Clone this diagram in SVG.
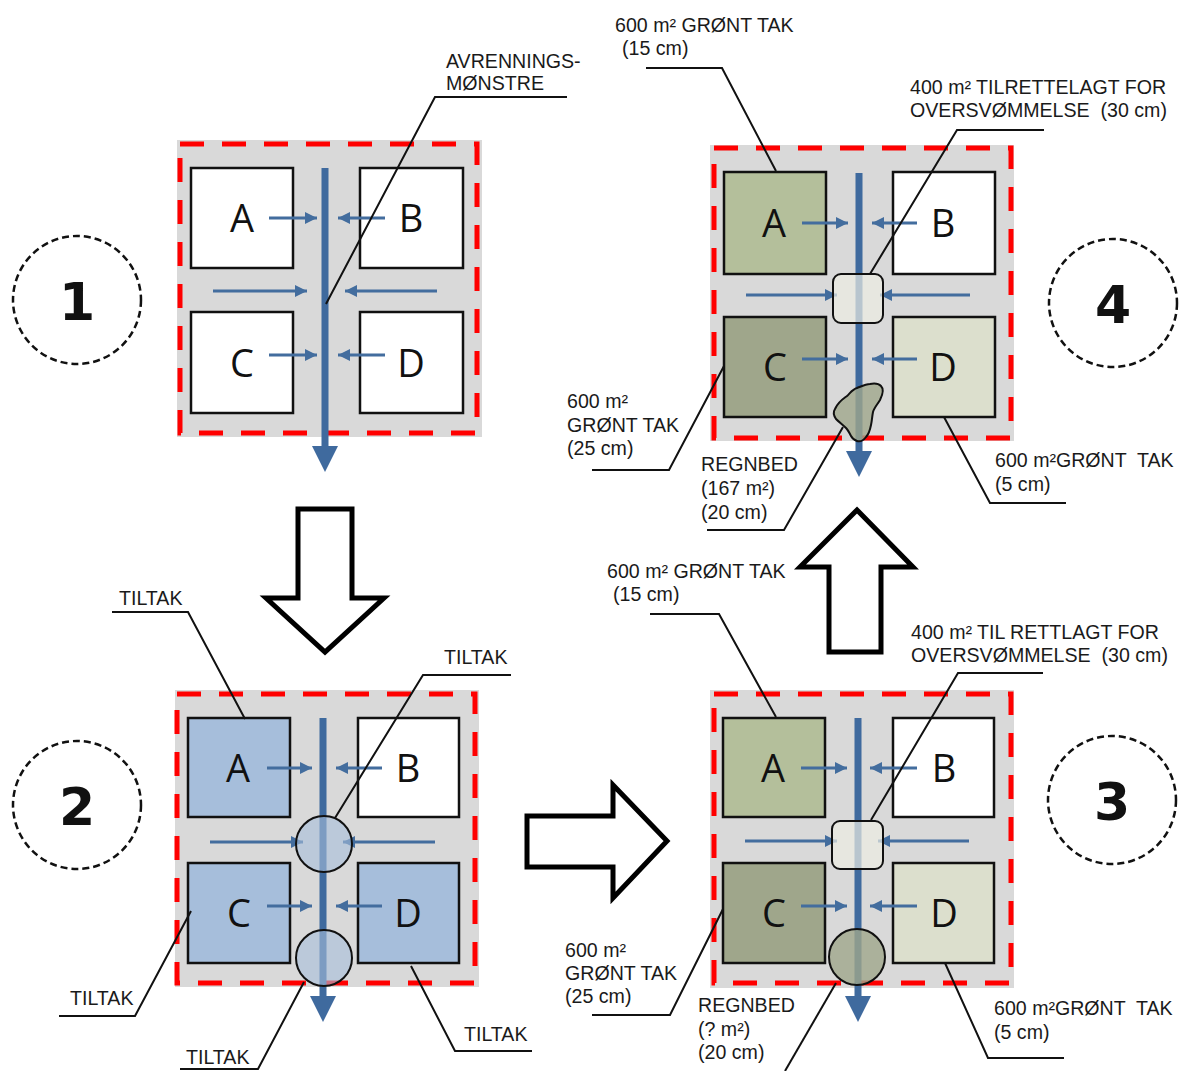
<svg xmlns="http://www.w3.org/2000/svg" width="1182" height="1071" viewBox="0 0 1182 1071">
<style>
.bg{fill:#d9d9d9}
.red{fill:none;stroke:#ff0000;stroke-width:5;stroke-dasharray:24 18}
.box{stroke:#111;stroke-width:2.5}
.w{fill:#fff}.bl{fill:#a6bedb}.g1{fill:#b4bf9b}.g2{fill:#9fa68b}.g3{fill:#dcdfcd}
.let{font-family:"Open Sans","Liberation Sans",sans-serif;font-size:38px;fill:#111;text-anchor:middle}
.num{font-family:"DejaVu Sans",sans-serif;font-weight:bold;font-size:52px;fill:#111;text-anchor:middle}
.dc{fill:#fff;stroke:#111;stroke-width:2.5;stroke-dasharray:7 4}
.shaft{stroke:#3f6a9e;stroke-width:7}
.head{fill:#3f6a9e}
.sa{stroke:#436d9e;stroke-width:3;marker-end:url(#ah)}
.lead{fill:none;stroke:#111;stroke-width:2}
.lbl{font-family:"Liberation Sans",Arial,sans-serif;font-size:19.6px;fill:#1a1a1a;white-space:pre}
.big{fill:#fff;stroke:#000;stroke-width:5;stroke-linejoin:miter}
.ov{stroke:#111;stroke-width:2}
</style>
<defs>
<marker id="ah" markerUnits="userSpaceOnUse" markerWidth="12" markerHeight="12" refX="10" refY="5" orient="auto" viewBox="0 0 10 10">
<path d="M0,0 L10,5 L0,10 Z" fill="#436d9e"/>
</marker>
</defs>

<g id="panel1">
<rect class="bg" x="177" y="140" width="305" height="297"/>
<rect class="red" x="180" y="144" width="297" height="289"/>
<rect class="box w" x="191" y="168" width="102" height="100"/>
<rect class="box w" x="360" y="168" width="103" height="100"/>
<rect class="box w" x="191" y="312" width="102" height="101"/>
<rect class="box w" x="360" y="312" width="103" height="101"/>
<text class="let" x="242" y="232">A</text>
<text class="let" x="411" y="232">B</text>
<text class="let" x="242" y="377">C</text>
<text class="let" x="411" y="377">D</text>
<line class="shaft" x1="325" y1="168" x2="325" y2="448"/>
<polygon class="head" points="312,446 338,446 325,472"/>
<line class="sa" x1="269" y1="218" x2="317" y2="218"/>
<line class="sa" x1="385" y1="218" x2="338" y2="218"/>
<line class="sa" x1="213" y1="291" x2="307" y2="291"/>
<line class="sa" x1="437" y1="291" x2="345" y2="291"/>
<line class="sa" x1="269" y1="355" x2="317" y2="355"/>
<line class="sa" x1="385" y1="355" x2="338" y2="355"/>
</g>

<g id="panel2">
<rect class="bg" x="175" y="690" width="304" height="297"/>
<rect class="red" x="177" y="694" width="298" height="289"/>
<rect class="box bl" x="188" y="718" width="102" height="99"/>
<rect class="box w" x="358" y="718" width="101" height="99"/>
<rect class="box bl" x="188" y="863" width="102" height="100"/>
<rect class="box bl" x="358" y="863" width="101" height="100"/>
<text class="let" x="238" y="782">A</text>
<text class="let" x="408" y="782">B</text>
<text class="let" x="239" y="927">C</text>
<text class="let" x="408" y="927">D</text>
<line class="shaft" x1="323" y1="718" x2="323" y2="998"/>
<polygon class="head" points="310,996 336,996 323,1022"/>
<line class="sa" x1="267" y1="768" x2="312" y2="768"/>
<line class="sa" x1="382" y1="768" x2="336" y2="768"/>
<line class="sa" x1="210" y1="842" x2="303" y2="842"/>
<line class="sa" x1="435" y1="842" x2="343" y2="842"/>
<line class="sa" x1="267" y1="906" x2="312" y2="906"/>
<line class="sa" x1="382" y1="906" x2="336" y2="906"/>
<circle class="ov" cx="324" cy="844" r="28" fill="#a6bedb" fill-opacity="0.6"/>
<circle class="ov" cx="324" cy="958" r="28" fill="#a6bedb" fill-opacity="0.6"/>
</g>

<g id="panel3">
<rect class="bg" x="710" y="690" width="304" height="298"/>
<rect class="red" x="714" y="694" width="297" height="289"/>
<rect class="box g1" x="723" y="718" width="102" height="99"/>
<rect class="box w" x="893" y="718" width="101" height="99"/>
<rect class="box g2" x="723" y="863" width="102" height="100"/>
<rect class="box g3" x="893" y="863" width="101" height="100"/>
<text class="let" x="773" y="782">A</text>
<text class="let" x="944" y="782">B</text>
<text class="let" x="774" y="927">C</text>
<text class="let" x="944" y="927">D</text>
<line class="shaft" x1="858" y1="718" x2="858" y2="998"/>
<polygon class="head" points="845,996 871,996 858,1022"/>
<line class="sa" x1="801" y1="768" x2="847" y2="768"/>
<line class="sa" x1="917" y1="768" x2="870" y2="768"/>
<line class="sa" x1="745" y1="841" x2="837" y2="841"/>
<line class="sa" x1="969" y1="841" x2="878" y2="841"/>
<line class="sa" x1="801" y1="906" x2="847" y2="906"/>
<line class="sa" x1="917" y1="906" x2="870" y2="906"/>
<rect class="ov" x="832" y="821" width="51" height="48" rx="8" fill="#ecece2" fill-opacity="0.7"/>
<circle class="ov" cx="857" cy="957" r="28" fill="#9fa68b" fill-opacity="0.8"/>
</g>

<g id="panel4">
<rect class="bg" x="710" y="145" width="304" height="296"/>
<rect class="red" x="714" y="148" width="297" height="290"/>
<rect class="box g1" x="724" y="172" width="102" height="102"/>
<rect class="box w" x="893" y="172" width="102" height="102"/>
<rect class="box g2" x="724" y="317" width="102" height="100"/>
<rect class="box g3" x="893" y="317" width="102" height="100"/>
<text class="let" x="774" y="237">A</text>
<text class="let" x="943" y="237">B</text>
<text class="let" x="775" y="381">C</text>
<text class="let" x="943" y="381">D</text>
<line class="shaft" x1="859" y1="173" x2="859" y2="453"/>
<polygon class="head" points="846,451 872,451 859,477"/>
<line class="sa" x1="802" y1="223" x2="848" y2="223"/>
<line class="sa" x1="917" y1="223" x2="872" y2="223"/>
<line class="sa" x1="746" y1="295" x2="837" y2="295"/>
<line class="sa" x1="970" y1="295" x2="880" y2="295"/>
<line class="sa" x1="802" y1="359" x2="848" y2="359"/>
<line class="sa" x1="917" y1="359" x2="872" y2="359"/>
<rect class="ov" x="833" y="274" width="50" height="49" rx="8" fill="#ecece2" fill-opacity="0.7"/>
<path class="ov" fill="#9fa68b" fill-opacity="0.8" d="M835,409 C838,402 843,399 847,396 C851,392 853,389 857,388 C862,386 866,384 870,384 C875,383 879,384 881,386 C884,389 883,394 880,400 C877,405 874,408 873,412 C872,417 872,421 871,425 C870,430 869,434 866,437 C863,441 860,442 857,441 C854,440 852,438 851,436 C849,432 848,430 846,428 C843,425 839,422 836,419 C834,416 833,412 835,409 Z"/>
</g>

<g id="circle1"><circle class="dc" cx="77" cy="300" r="64"/><text class="num" x="77" y="320">1</text></g>
<g id="circle2"><circle class="dc" cx="77" cy="805" r="64"/><text class="num" x="77" y="825">2</text></g>
<g id="circle3"><circle class="dc" cx="1112" cy="800" r="64"/><text class="num" x="1112" y="820">3</text></g>
<g id="circle4"><circle class="dc" cx="1113" cy="303" r="64"/><text class="num" x="1113" y="323">4</text></g>

<g id="labels">
<text class="lbl" x="446" y="68">AVRENNINGS-</text>
<text class="lbl" x="446" y="90">MØNSTRE</text>
<text class="lbl" x="119" y="605">TILTAK</text>
<text class="lbl" x="444" y="664">TILTAK</text>
<text class="lbl" x="70" y="1005">TILTAK</text>
<text class="lbl" x="186" y="1064">TILTAK</text>
<text class="lbl" x="464" y="1041">TILTAK</text>
<text class="lbl" x="607" y="578">600 m² GRØNT TAK</text>
<text class="lbl" x="613" y="601">(15 cm)</text>
<text class="lbl" x="911" y="639">400 m² TIL RETTLAGT FOR</text>
<text class="lbl" x="911" y="662">OVERSVØMMELSE  (30 cm)</text>
<text class="lbl" x="565" y="957">600 m²</text>
<text class="lbl" x="565" y="980">GRØNT TAK</text>
<text class="lbl" x="565" y="1003">(25 cm)</text>
<text class="lbl" x="698" y="1012">REGNBED</text>
<text class="lbl" x="698" y="1036">(? m²)</text>
<text class="lbl" x="698" y="1059">(20 cm)</text>
<text class="lbl" x="994" y="1015">600 m²GRØNT  TAK</text>
<text class="lbl" x="994" y="1039">(5 cm)</text>
<text class="lbl" x="615" y="32">600 m² GRØNT TAK</text>
<text class="lbl" x="622" y="55">(15 cm)</text>
<text class="lbl" x="910" y="94">400 m² TILRETTELAGT FOR</text>
<text class="lbl" x="910" y="117">OVERSVØMMELSE  (30 cm)</text>
<text class="lbl" x="567" y="408">600 m²</text>
<text class="lbl" x="567" y="432">GRØNT TAK</text>
<text class="lbl" x="567" y="455">(25 cm)</text>
<text class="lbl" x="701" y="471">REGNBED</text>
<text class="lbl" x="701" y="495">(167 m²)</text>
<text class="lbl" x="701" y="519">(20 cm)</text>
<text class="lbl" x="995" y="467">600 m²GRØNT  TAK</text>
<text class="lbl" x="995" y="491">(5 cm)</text>
</g>

<g id="connectors">
<polygon class="big" points="298,509 352,509 352,598 384,598 325,652 266,598 298,598"/>
<polygon class="big" points="527,816 613,816 613,785 667,841 613,898 613,867 527,867"/>
<polygon class="big" points="829,652 829,567 800,567 857,510 913,567 881,567 881,652"/>
<polyline class="lead" points="567,97 435,97 326,304"/>
<polyline class="lead" points="112,612 188,612 245,719"/>
<polyline class="lead" points="511,675 423,675 335,818"/>
<polyline class="lead" points="59,1016 135,1016 191,911"/>
<polyline class="lead" points="180,1069 258,1069 304,982"/>
<polyline class="lead" points="532,1051 455,1051 411,966"/>
<polyline class="lead" points="650,614 719,614 776,717"/>
<polyline class="lead" points="1043,673 958,673 871,820"/>
<polyline class="lead" points="592,1015 670,1015 723,909"/>
<polyline class="lead" points="785,1071 836,983"/>
<polyline class="lead" points="945,963 988,1058 1064,1058"/>
<polyline class="lead" points="646,68 722,68 776,171"/>
<polyline class="lead" points="1044,130 957,130 870,274"/>
<polyline class="lead" points="592,470 669,470 724,366"/>
<polyline class="lead" points="707,530 784,530 843,427"/>
<polyline class="lead" points="944,417 990,503 1066,503"/>
</g>
</svg>
